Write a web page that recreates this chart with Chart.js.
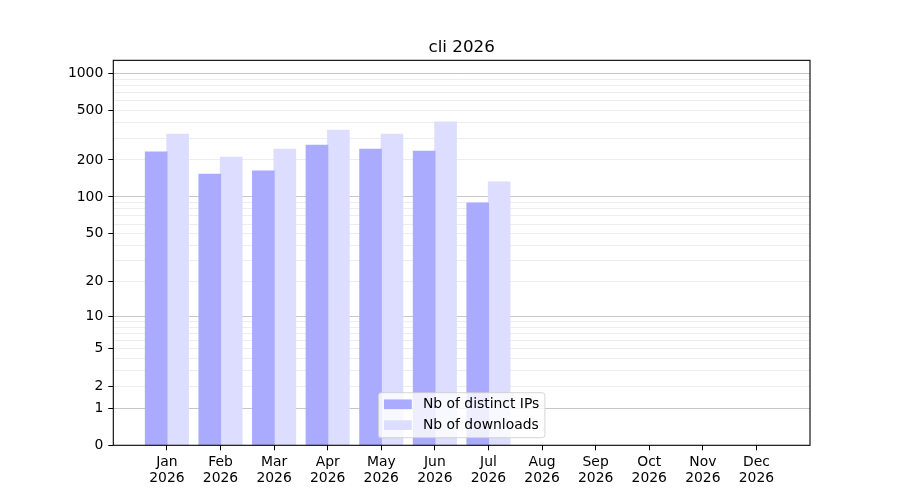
<!DOCTYPE html>
<html>
<head>
<meta charset="utf-8">
<script src="https://cdn.jsdelivr.net/npm/chart.js@4.4.1/dist/chart.umd.min.js"></script>
<style>
  html, body { margin: 0; padding: 0; background: #fff; }
  #wrap { width: 900px; height: 500px; }
</style>
</head>
<body>
<div id="wrap"><canvas id="c" width="900" height="500"></canvas></div>
<script>
// ---- data ----
const titleText = 'cli 2026';
const months = ['Jan','Feb','Mar','Apr','May','Jun','Jul','Aug','Sep','Oct','Nov','Dec'];
const yearLabel = '2026';
const distinctIPs = [231, 153, 162, 263, 244, 235, 89, 0, 0, 0, 0, 0];
const downloads   = [323, 210, 244, 348, 323, 404, 132, 0, 0, 0, 0, 0];
const seriesNames = ['Nb of distinct IPs', 'Nb of downloads'];
const yMajorTicks = [0, 1, 2, 5, 10, 20, 50, 100, 200, 500, 1000];
const yMinorTicks = [3, 4, 6, 7, 8, 9, 30, 40, 60, 70, 80, 90, 300, 400, 600, 700, 800, 900];
const yMax = 1278;

// ---- log10(1+x) scale ----
class Log1pScale extends Chart.LinearScale {
  buildTicks() {
    this.min = this.options.min;
    this.max = this.options.max;
    const all = yMajorTicks.concat(yMinorTicks).sort((a, b) => a - b);
    return all.map(v => ({ value: v, major: yMajorTicks.includes(v) }));
  }
  configure() {
    super.configure();
    this._lmin = Math.log10(1 + this.min);
    this._lrange = Math.log10(1 + this.max) - this._lmin;
  }
  getPixelForValue(value) {
    if (value === null || value === undefined || isNaN(value)) return NaN;
    return this.getPixelForDecimal((Math.log10(1 + value) - this._lmin) / this._lrange);
  }
  getValueForPixel(pixel) {
    const d = this.getDecimalForPixel(pixel);
    return Math.pow(10, this._lmin + d * this._lrange) - 1;
  }
}
Log1pScale.id = 'log1p';
Log1pScale.defaults = {};
Chart.register(Log1pScale);

const FONT = 'DejaVu Sans';
const FS = 13.9;

const xLabels = [''].concat(months.map(m => [m, yearLabel]), ['']);
const pad = arr => [null].concat(arr, [null]);

const framePlugin = {
  id: 'frameAndLegend',
  afterDraw(chart) {
    const ctx = chart.ctx;
    const a = chart.chartArea;
    ctx.save();
    ctx.strokeStyle = '#000';
    ctx.lineWidth = 1.1;
    ctx.strokeRect(a.left, a.top, a.right - a.left, a.bottom - a.top);

    // legend (lower center, inside axes)
    ctx.font = FS + 'px "' + FONT + '"';
    const ds = chart.data.datasets;
    let tw = 0;
    ds.forEach(d => { tw = Math.max(tw, ctx.measureText(d.label).width); });
    const bp = 5.6, hl = 27.8, htp = 11.1, hh = 9.7, rowH = 20.8;
    const w = bp + hl + htp + tw + bp;
    const h = 45;
    const cx = (a.left + a.right) / 2;
    const x0 = cx - w / 2;
    const y0 = a.bottom - 7.6 - h;
    const r = 2.8;
    ctx.beginPath();
    ctx.moveTo(x0 + r, y0);
    ctx.lineTo(x0 + w - r, y0);
    ctx.arcTo(x0 + w, y0, x0 + w, y0 + r, r);
    ctx.lineTo(x0 + w, y0 + h - r);
    ctx.arcTo(x0 + w, y0 + h, x0 + w - r, y0 + h, r);
    ctx.lineTo(x0 + r, y0 + h);
    ctx.arcTo(x0, y0 + h, x0, y0 + h - r, r);
    ctx.lineTo(x0, y0 + r);
    ctx.arcTo(x0, y0, x0 + r, y0, r);
    ctx.closePath();
    ctx.fillStyle = 'rgba(255,255,255,0.8)';
    ctx.fill();
    ctx.strokeStyle = 'rgba(204,204,204,0.8)';
    ctx.lineWidth = 1;
    ctx.stroke();
    ds.forEach((d, i) => {
      const cy = y0 + 11.6 + i * rowH;
      ctx.fillStyle = d.backgroundColor;
      ctx.fillRect(x0 + bp, cy - hh / 2, hl, hh);
      ctx.fillStyle = '#000';
      ctx.textBaseline = 'middle';
      ctx.textAlign = 'left';
      ctx.fillText(d.label, x0 + bp + hl + htp, cy);
    });
    ctx.restore();
  }
};

const inflate = c => (c.raw > 0 ? 0.6 : 0);

new Chart(document.getElementById('c'), {
  type: 'bar',
  data: {
    labels: xLabels,
    datasets: [
      { label: seriesNames[0], data: pad(distinctIPs), backgroundColor: '#aaaaff', borderWidth: 0, inflateAmount: inflate },
      { label: seriesNames[1], data: pad(downloads), backgroundColor: '#ddddff', borderWidth: 0, inflateAmount: inflate }
    ]
  },
  options: {
    responsive: false,
    animation: false,
    events: [],
    layout: { padding: { left: 0, right: 90, top: 38, bottom: 0 } },
    datasets: { bar: { categoryPercentage: 0.8, barPercentage: 1.0, grouped: true } },
    plugins: {
      legend: { display: false },
      tooltip: { enabled: false },
      title: {
        display: true,
        text: titleText,
        fullSize: false,
        color: '#000',
        font: { family: FONT, size: 16.7, weight: 'normal', lineHeight: 1.2 },
        padding: { top: 0, bottom: 2.3 }
      }
    },
    scales: {
      x: {
        type: 'category',
        offset: false,
        border: { display: false },
        grid: {
          offset: false,
          drawOnChartArea: false,
          drawTicks: true,
          tickLength: 5,
          tickWidth: 1,
          tickColor: c => (c.index === 0 || c.index === xLabels.length - 1) ? 'rgba(0,0,0,0)' : '#000'
        },
        ticks: {
          autoSkip: false,
          maxRotation: 0,
          minRotation: 0,
          padding: 4,
          color: '#000',
          font: { family: FONT, size: FS, lineHeight: 1.15 }
        },
        afterFit: s => { s.height = 54.7; }
      },
      y: {
        type: 'log1p',
        min: 0,
        max: yMax,
        z: 1,
        border: { display: false },
        grid: {
          drawOnChartArea: true,
          drawTicks: true,
          tickLength: 5,
          lineWidth: 1,
          color: c => {
            const v = c.tick ? c.tick.value : null;
            if (v === 0) return 'rgba(0,0,0,0)';
            if (v === 1 || v === 10 || v === 100 || v === 1000) return 'rgba(0,0,0,0.22)';
            return 'rgba(0,0,0,0.07)';
          },
          tickColor: c => (c.tick && yMajorTicks.includes(c.tick.value)) ? '#000' : 'rgba(0,0,0,0)'
        },
        ticks: {
          autoSkip: false,
          padding: 5,
          color: '#000',
          font: { family: FONT, size: FS },
          callback: v => yMajorTicks.includes(v) ? String(v) : ''
        },
        afterFit: s => { s.width = 113.3; }
      }
    }
  },
  plugins: [framePlugin]
});
</script>
</body>
</html>
